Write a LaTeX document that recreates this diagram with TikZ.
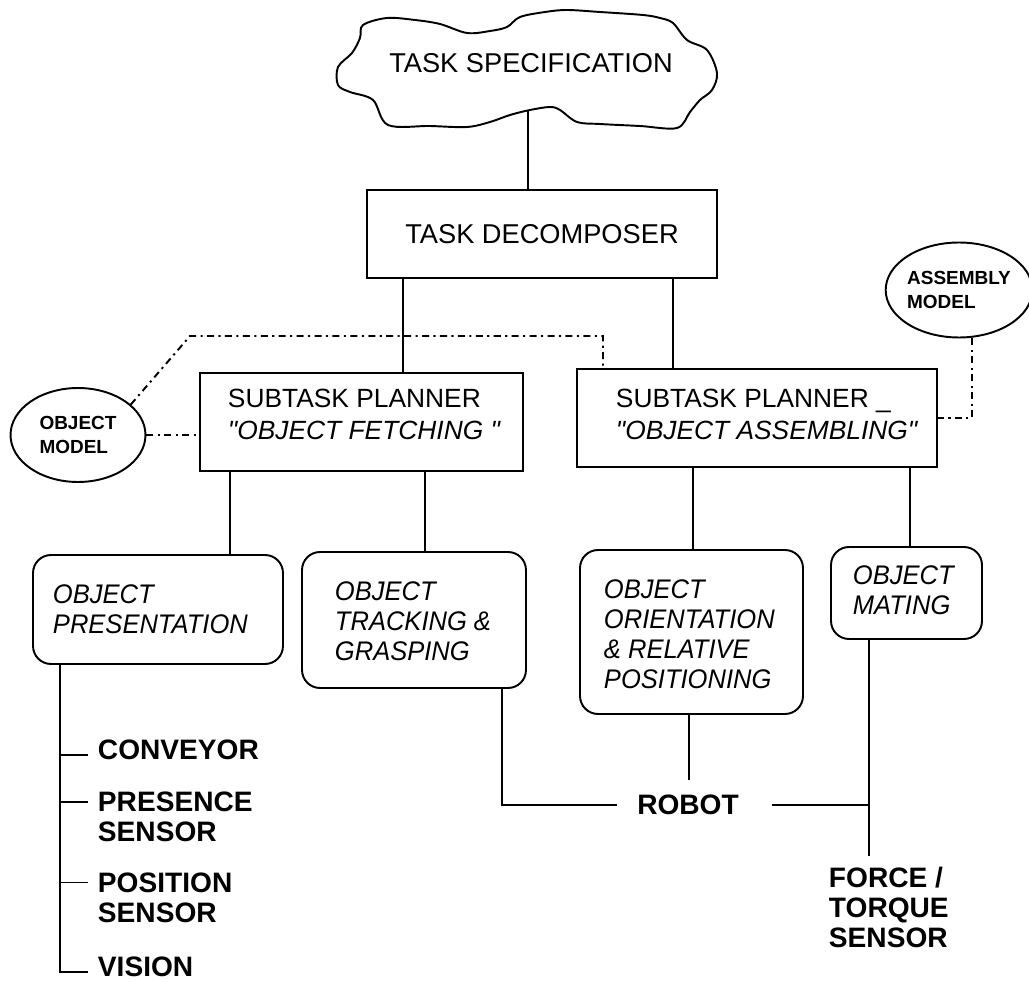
\documentclass[tikz,border=0pt]{standalone}
\usepackage{fontspec}
\setmainfont{Liberation Sans}
\newfontfamily\plainsans{Liberation Sans}
\newfontfamily\condfont{Liberation Sans}[FakeStretch=0.95]
\usetikzlibrary{shapes.geometric,calc}
\begin{document}
\begin{tikzpicture}[x=0.02cm,y=-0.02cm, line width=1.1pt,
  box/.style={draw, rectangle, inner sep=0},
  rbox/.style={draw, rectangle, rounded corners=0.36cm, inner sep=0},
  ell/.style={draw, ellipse, inner sep=0, align=left, font=\fontsize{10.8}{13.8}\selectfont\bfseries},
  head/.style={inner sep=0, font=\fontsize{15.5}{18}\selectfont},
  sptext/.style={anchor=west, align=left, inner sep=0, font=\plainsans\fontsize{15}{18.2}\selectfont},
  btext/.style={anchor=west, align=left, inner sep=0, font=\condfont\fontsize{15.3}{17.1}\selectfont\itshape},
  ltext/.style={anchor=west, align=left, inner sep=0, font=\fontsize{16}{17.1}\selectfont\bfseries},
  dd/.style={dash pattern=on 4pt off 2.5pt on 1.2pt off 2.5pt}
]
\useasboundingbox (0,0) rectangle (1029,983);

% cloud
\draw plot[smooth cycle, tension=0.55] coordinates {
 (363,25) (387,18) (415,20) (440,24) (467,33) (490,31) (507,27) (520,17)
 (545,12) (567,10) (600,12) (643,15) (660,18) (673,23) (687,40) (707,50)
 (717,73) (712,90) (700,100) (690,112) (677,128) (640,126) (600,124)
 (577,122) (560,110) (550,107) (530,110) (510,115) (490,122) (467,127)
 (430,126) (388,125) (373,100) (350,92) (338,85) (338,67) (352,53) (360,38)};
\node[head] (spec) at (531,63) {TASK SPECIFICATION};
\coordinate (cb) at (528,110);

% boxes
\node[box, minimum width=7cm, minimum height=1.76cm, font=\fontsize{15.5}{18}\selectfont] (td) at (542,234) {TASK DECOMPOSER};
\node[box, minimum width=6.46cm, minimum height=1.96cm] (sp1) at (361.5,422) {};
\node[sptext] (sp1t) at (227,414) {SUBTASK PLANNER\\\itshape"OBJECT FETCHING "};
\node[box, minimum width=7.2cm, minimum height=1.96cm] (sp2) at (757,418) {};
\node[sptext] (sp2t) at (615,414) {SUBTASK PLANNER \_\\\itshape"OBJECT ASSEMBLING"};

\node[ell, minimum width=2.7cm, minimum height=1.88cm] (om) at (78,435) {OBJECT\\MODEL};
\node[ell, minimum width=2.76cm, minimum height=1.9cm] (am) at (959,290) {ASSEMBLY\\MODEL};

\node[rbox, minimum width=5cm, minimum height=2.18cm] (pres) at (158,609.5) {};
\node[btext] (prest) at (52,609) {OBJECT\\PRESENTATION};
\node[rbox, minimum width=4.48cm, minimum height=2.72cm] (track) at (414,620) {};
\node[btext] (trackt) at (334,621) {OBJECT\\TRACKING \&\\GRASPING};
\node[rbox, minimum width=4.46cm, minimum height=3.28cm] (orient) at (691.5,632) {};
\node[btext] (orientt) at (603,634) {OBJECT\\ORIENTATION\\\& RELATIVE\\POSITIONING};
\node[rbox, minimum width=3.02cm, minimum height=1.84cm] (mate) at (906.5,593) {};
\node[btext] (matet) at (852,590) {OBJECT\\MATING};

% list
\node[ltext] (conv) at (97,750) {CONVEYOR};
\node[ltext] (presn) at (97,817) {PRESENCE\\SENSOR};
\node[ltext] (posn) at (97,897.5) {POSITION\\SENSOR};
\node[ltext] (vis) at (97,967) {VISION};

\node[font=\fontsize{16}{18}\selectfont\bfseries, inner xsep=0.38cm, inner ysep=0.28cm] (robot) at (688,805) {ROBOT};
\node[ltext, inner ysep=0.2cm] (force) at (828,907) {FORCE /\\TORQUE\\SENSOR};

% helper coordinates
\coordinate (a1) at (403,0); \coordinate (a2) at (673,0);
\coordinate (b1) at (230,0); \coordinate (b2) at (425,0);
\coordinate (b3) at (693,0); \coordinate (b4) at (910,0);
\coordinate (vl) at (60,0);
\coordinate (t2) at (502,0); \coordinate (o2) at (689,0); \coordinate (m2) at (869,0);
\coordinate (k1) at (190,336); \coordinate (k2) at (603,0); \coordinate (k3) at (972,0);

% connectors
\draw (cb) -- (cb |- td.north);
\draw (td.south -| a1) -- (sp1.north -| a1);
\draw (td.south -| a2) -- (sp2.north -| a2);
\draw (sp1.south -| b1) -- (pres.north -| b1);
\draw (sp1.south -| b2) -- (track.north -| b2);
\draw (sp2.south -| b3) -- (orient.north -| b3);
\draw (sp2.south -| b4) -- (mate.north -| b4);

\draw (pres.south -| vl) |- ($(vis.west)+(-9,5)$);
\draw ($(conv.west)+(-9,5)$) -- ($(conv.west)+(-37,5)$);
\draw ($(presn.west)+(-9,-15)$) -- ($(presn.west)+(-37,-15)$);
\draw ($(posn.west)+(-9,-15)$) -- ($(posn.west)+(-37,-15)$);

\draw (track.south -| t2) |- (robot.west);
\draw (orient.south -| o2) -- (robot.north -| o2);
\draw ([xshift=0.26cm]robot.east) -- (robot.east -| m2);
\draw (mate.south -| m2) -- (force.north -| m2);

% dash-dot links
\draw[dd] (om.30) -- (k1) -| (sp2.north -| k2);
\draw[dd] (om.east) -- (om.east -| sp1.west);
\draw[dd] (am.south -| k3) |- (sp2.east);
\end{tikzpicture}
\end{document}
